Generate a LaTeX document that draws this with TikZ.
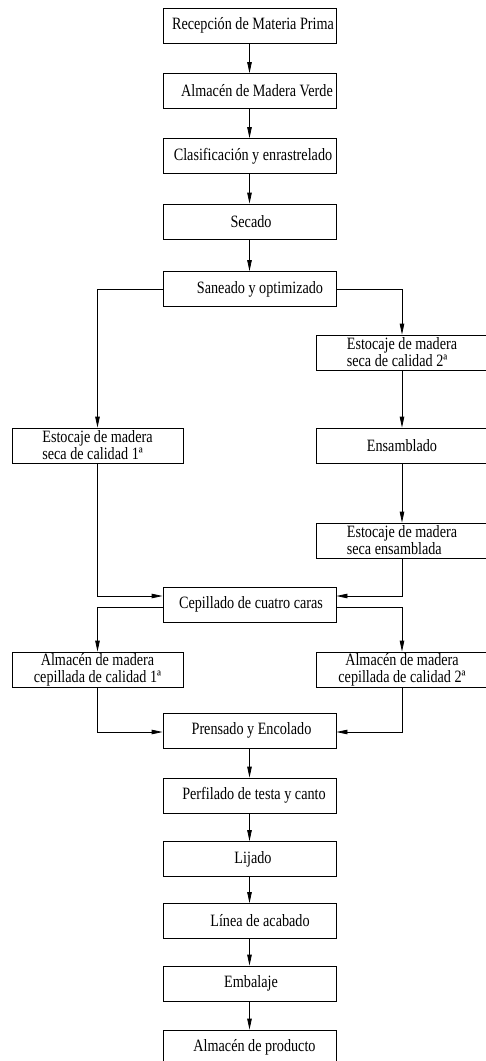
\documentclass[tikz,border=0pt]{standalone}
\usepackage{fontspec}
\setmainfont{Liberation Serif}[FakeStretch=0.82]
\usetikzlibrary{arrows.meta}
\begin{document}
\begin{tikzpicture}[x=1pt,y=-1pt,
  box/.style={draw,line width=0.8pt,minimum width=173pt,minimum height=35pt,
    inner xsep=0pt,inner ysep=0pt,font=\fontsize{17.3}{17}\selectfont},
  sbox/.style={box,minimum width=171pt},
  arr/.style={line width=0.8pt,-{Triangle[length=11pt,width=4.5pt]}}]
\useasboundingbox (0,0) rectangle (486,1061);
% centre column
\node[box] (rec) at (249.5,25.5) {\hspace*{7pt}Recepción de Materia Prima};
\node[box] (alm) at (249.5,91) {\hspace*{15pt}Almacén de Madera Verde};
\node[box] (cla) at (249.5,156) {\hspace*{7pt}Clasificación y enrastrelado};
\node[box] (sec) at (249.5,221.5) {\hspace*{3pt}Secado};
\node[box] (san) at (249.5,289) {\hspace*{21pt}Saneado y optimizado};
% branches
\node[sbox,align=left] (e2) at (402,352.5) {Estocaje de madera\\seca de calidad 2ª};
\node[sbox,align=left] (e1) at (97.5,445.5) {Estocaje de madera\\seca de calidad 1ª};
\node[sbox] (ens) at (402,445.5) {Ensamblado};
\node[sbox,align=left] (ee) at (402,540.5) {Estocaje de madera\\seca ensamblada};
\node[box] (cep) at (249.5,604.5) {\hspace*{3pt}Cepillado de cuatro caras};
\node[sbox,align=center] (c1) at (97.5,669.5) {Almacén de madera\\cepillada de calidad 1ª};
\node[sbox,align=center] (c2) at (402,669.5) {Almacén de madera\\cepillada de calidad 2ª};
\node[box] (pre) at (249.5,730.5) {\hspace*{4pt}Prensado y Encolado};
\node[box] (per) at (249.5,795.5) {\hspace*{9pt}Perfilado de testa y canto};
\node[box] (lij) at (249.5,859) {\hspace*{7pt}Lijado};
\node[box] (lin) at (249.5,921) {\hspace*{21pt}Línea de acabado};
\node[box] (emb) at (249.5,983.5) {\hspace*{3pt}Embalaje};
\node[box] (prod) at (249.5,1047.5) {\hspace*{10pt}Almacén de producto};
% connectors
\draw[arr] (rec) -- (alm);
\draw[arr] (alm) -- (cla);
\draw[arr] (cla) -- (sec);
\draw[arr] (sec) -- (san);
\draw[arr] (san.west) -| (e1.north);
\draw[arr] (san.east) -| (e2.north);
\draw[arr] (e2) -- (ens);
\draw[arr] (ens) -- (ee);
\draw[arr] (e1.south) |- ([yshift=8.5pt]cep.west);
\draw[arr] (ee.south) |- ([yshift=8.5pt]cep.east);
\draw[arr] ([yshift=-2.5pt]cep.west) -| (c1.north);
\draw[arr] ([yshift=-2.5pt]cep.east) -| (c2.north);
\draw[arr] (c1.south) |- ([yshift=-1.5pt]pre.west);
\draw[arr] (c2.south) |- ([yshift=-1.5pt]pre.east);
\draw[arr] (pre) -- (per);
\draw[arr] (per) -- (lij);
\draw[arr] (lij) -- (lin);
\draw[arr] (lin) -- (emb);
\draw[arr] (emb) -- (prod);
\end{tikzpicture}
\end{document}
